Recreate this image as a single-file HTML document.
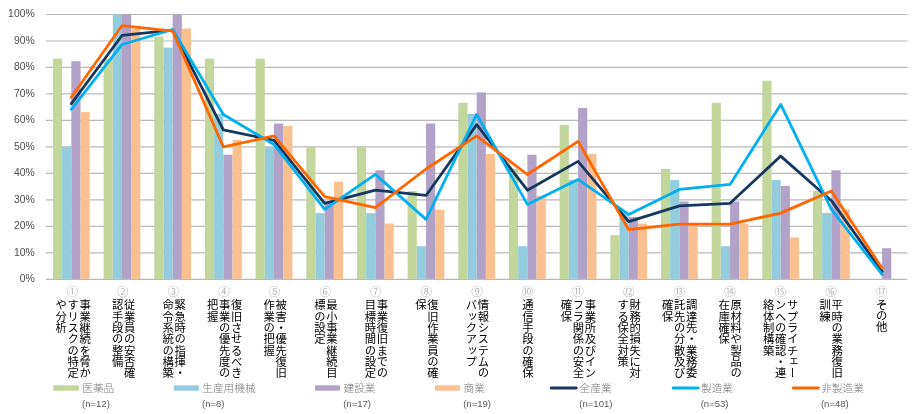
<!DOCTYPE html>
<html lang="ja">
<head>
<meta charset="utf-8">
<title>BCP chart</title>
<style>
html,body{margin:0;padding:0;background:#fff;}
body{width:912px;height:414px;overflow:hidden;font-family:"Liberation Sans","Noto Sans CJK JP",sans-serif;}
svg{display:block;will-change:transform;}
svg text{font-family:"Liberation Sans","Noto Sans CJK JP",sans-serif;}
svg .vt text{writing-mode:vertical-rl;font-size:11.33px;}
</style>
</head>
<body>
<svg width="912" height="414" viewBox="0 0 912 414">
<g stroke="#b9b9b9" stroke-width="1.2"><line x1="46" x2="907.4" y1="279.35" y2="279.35"/><line x1="46" x2="907.4" y1="252.87" y2="252.87"/><line x1="46" x2="907.4" y1="226.38" y2="226.38"/><line x1="46" x2="907.4" y1="199.9" y2="199.9"/><line x1="46" x2="907.4" y1="173.41" y2="173.41"/><line x1="46" x2="907.4" y1="146.93" y2="146.93"/><line x1="46" x2="907.4" y1="120.44" y2="120.44"/><line x1="46" x2="907.4" y1="93.96" y2="93.96"/><line x1="46" x2="907.4" y1="67.47" y2="67.47"/><line x1="46" x2="907.4" y1="40.98" y2="40.98"/><line x1="46" x2="907.4" y1="14.5" y2="14.5"/></g>
<g fill="#c3d69b"><rect x="52.94" y="58.64" width="9.2" height="220.26"/><rect x="103.61" y="58.64" width="9.2" height="220.26"/><rect x="154.28" y="36.57" width="9.2" height="242.33"/><rect x="204.95" y="58.64" width="9.2" height="220.26"/><rect x="255.62" y="58.64" width="9.2" height="220.26"/><rect x="306.29" y="146.93" width="9.2" height="131.98"/><rect x="356.96" y="146.93" width="9.2" height="131.98"/><rect x="407.63" y="191.07" width="9.2" height="87.83"/><rect x="458.3" y="102.78" width="9.2" height="176.12"/><rect x="508.97" y="169" width="9.2" height="109.9"/><rect x="559.64" y="124.85" width="9.2" height="154.05"/><rect x="610.31" y="235.21" width="9.2" height="43.69"/><rect x="660.98" y="169" width="9.2" height="109.9"/><rect x="711.65" y="102.78" width="9.2" height="176.12"/><rect x="762.32" y="80.71" width="9.2" height="198.19"/><rect x="812.99" y="191.07" width="9.2" height="87.83"/></g>
<g fill="#93cddd"><rect x="62.14" y="146.93" width="9.2" height="131.98"/><rect x="112.81" y="14.5" width="9.2" height="264.4"/><rect x="163.48" y="47.61" width="9.2" height="231.29"/><rect x="214.15" y="113.82" width="9.2" height="165.08"/><rect x="264.82" y="146.93" width="9.2" height="131.98"/><rect x="315.49" y="213.14" width="9.2" height="65.76"/><rect x="366.16" y="213.14" width="9.2" height="65.76"/><rect x="416.83" y="246.24" width="9.2" height="32.66"/><rect x="467.5" y="113.82" width="9.2" height="165.08"/><rect x="518.17" y="246.24" width="9.2" height="32.66"/><rect x="568.84" y="180.03" width="9.2" height="98.87"/><rect x="619.51" y="213.14" width="9.2" height="65.76"/><rect x="670.18" y="180.03" width="9.2" height="98.87"/><rect x="720.85" y="246.24" width="9.2" height="32.66"/><rect x="771.52" y="180.03" width="9.2" height="98.87"/><rect x="822.19" y="213.14" width="9.2" height="65.76"/></g>
<g fill="#b3a2c7"><rect x="71.34" y="61.24" width="9.2" height="217.66"/><rect x="122.01" y="14.5" width="9.2" height="264.4"/><rect x="172.68" y="14.5" width="9.2" height="264.4"/><rect x="223.35" y="154.71" width="9.2" height="124.19"/><rect x="274.02" y="123.56" width="9.2" height="155.34"/><rect x="324.69" y="201.45" width="9.2" height="77.45"/><rect x="375.36" y="170.29" width="9.2" height="108.61"/><rect x="426.03" y="123.56" width="9.2" height="155.34"/><rect x="476.7" y="92.4" width="9.2" height="186.5"/><rect x="527.37" y="154.71" width="9.2" height="124.19"/><rect x="578.04" y="107.98" width="9.2" height="170.92"/><rect x="628.71" y="217.03" width="9.2" height="61.87"/><rect x="679.38" y="201.45" width="9.2" height="77.45"/><rect x="730.05" y="201.45" width="9.2" height="77.45"/><rect x="780.72" y="185.87" width="9.2" height="93.03"/><rect x="831.39" y="170.29" width="9.2" height="108.61"/><rect x="882.06" y="248.19" width="9.2" height="30.71"/></g>
<g fill="#fac090"><rect x="80.54" y="112.08" width="9.2" height="166.82"/><rect x="131.21" y="28.44" width="9.2" height="250.46"/><rect x="181.88" y="28.44" width="9.2" height="250.46"/><rect x="232.55" y="139.96" width="9.2" height="138.94"/><rect x="283.22" y="126.02" width="9.2" height="152.88"/><rect x="333.89" y="181.77" width="9.2" height="97.13"/><rect x="384.56" y="223.59" width="9.2" height="55.31"/><rect x="435.23" y="209.65" width="9.2" height="69.25"/><rect x="485.9" y="153.89" width="9.2" height="125.01"/><rect x="536.57" y="195.71" width="9.2" height="83.19"/><rect x="587.24" y="153.89" width="9.2" height="125.01"/><rect x="637.91" y="223.59" width="9.2" height="55.31"/><rect x="688.58" y="223.59" width="9.2" height="55.31"/><rect x="739.25" y="223.59" width="9.2" height="55.31"/><rect x="789.92" y="237.53" width="9.2" height="41.37"/><rect x="840.59" y="209.65" width="9.2" height="69.25"/></g>
<polyline points="71.34,103.66 122.01,35.48 172.68,30.23 223.35,129.88 274.02,140.37 324.69,203.3 375.36,190.19 426.03,195.44 476.7,124.64 527.37,190.19 578.04,161.35 628.71,221.66 679.38,205.93 730.05,203.3 780.72,156.1 831.39,200.68 882.06,271.48" fill="none" stroke="#17375e" stroke-width="2.8" stroke-linejoin="round" stroke-linecap="round"/>
<polyline points="71.34,109.45 122.01,44.48 172.68,29.49 223.35,114.44 274.02,144.43 324.69,209.39 375.36,174.41 426.03,219.38 476.7,114.44 527.37,204.39 578.04,179.41 628.71,214.39 679.38,189.4 730.05,184.4 780.72,104.45 831.39,209.39 882.06,274.35" fill="none" stroke="#00b0f0" stroke-width="2.8" stroke-linejoin="round" stroke-linecap="round"/>
<polyline points="71.34,97.27 122.01,25.54 172.68,31.05 223.35,146.93 274.02,135.89 324.69,196.58 375.36,207.62 426.03,169 476.7,135.89 527.37,174.51 578.04,141.41 628.71,229.69 679.38,224.17 730.05,224.17 780.72,213.14 831.39,191.07 882.06,268.31" fill="none" stroke="#ff6600" stroke-width="2.8" stroke-linejoin="round" stroke-linecap="round"/>
<g font-size="10.4" fill="#4d4d4d" text-anchor="end" opacity=".999"><text x="34.7" y="282.34">0%</text><text x="34.7" y="255.86">10%</text><text x="34.7" y="229.37">20%</text><text x="34.7" y="202.89">30%</text><text x="34.7" y="176.4">40%</text><text x="34.7" y="149.92">50%</text><text x="34.7" y="123.43">60%</text><text x="34.7" y="96.95">70%</text><text x="34.7" y="70.46">80%</text><text x="34.7" y="43.98">90%</text><text x="34.7" y="17.49">100%</text></g>
<g fill="#9a9a9a" font-size="11.6" font-weight="300"><text x="66.44" y="295.8">①</text><text x="117.03" y="295.8">②</text><text x="167.62" y="295.8">③</text><text x="218.21" y="295.8">④</text><text x="268.81" y="295.8">⑤</text><text x="319.4" y="295.8">⑥</text><text x="369.99" y="295.8">⑦</text><text x="420.58" y="295.8">⑧</text><text x="471.18" y="295.8">⑨</text><text x="521.77" y="295.8">⑩</text><text x="572.36" y="295.8">⑪</text><text x="622.95" y="295.8">⑫</text><text x="673.55" y="295.8">⑬</text><text x="724.14" y="295.8">⑭</text><text x="774.73" y="295.8">⑮</text><text x="825.32" y="295.8">⑯</text><text x="875.92" y="295.8">⑰</text></g>
<g fill="#000" class="vt"><text x="84.09" y="299.5">事業継続を脅か</text><text x="72.09" y="299.5">すリスクの特定</text><text x="60.09" y="299.5">や分析</text></g>
<g fill="#000" class="vt"><text x="128.63" y="299.5">従業員の安否確</text><text x="116.63" y="299.5">認手段の整備</text></g>
<g fill="#000" class="vt"><text x="179.17" y="299.5">緊急時の指揮・</text><text x="167.17" y="299.5">命令系統の構築</text></g>
<g fill="#000" class="vt"><text x="235.72" y="299.5">復旧させるべき</text><text x="223.72" y="299.5">事業の優先度の</text><text x="211.72" y="299.5">把握</text></g>
<g fill="#000" class="vt"><text x="280.26" y="299.5">被害・優先復旧</text><text x="268.26" y="299.5">作業の把握</text></g>
<g fill="#000" class="vt"><text x="330.8" y="299.5">最小事業継続目</text><text x="318.8" y="299.5">標の設定</text></g>
<g fill="#000" class="vt"><text x="381.34" y="299.5">事業復旧までの</text><text x="369.34" y="299.5">目標時間の設定</text></g>
<g fill="#000" class="vt"><text x="431.88" y="299.5">復旧作業員の確</text><text x="419.88" y="299.5">保</text></g>
<g fill="#000" class="vt"><text x="482.42" y="299.5">情報システムの</text><text x="470.42" y="299.5">バックアップ</text></g>
<g fill="#000" class="vt"><text x="526.96" y="299.5">通信手段の確保</text></g>
<g fill="#000" class="vt"><text x="589.51" y="299.5">事業所及びイン</text><text x="577.51" y="299.5">フラ関係の安全</text><text x="565.51" y="299.5">確保</text></g>
<g fill="#000" class="vt"><text x="634.05" y="299.5">財務的損失に対</text><text x="622.05" y="299.5">する保全対策</text></g>
<g fill="#000" class="vt"><text x="690.59" y="299.5">調達先・業務委</text><text x="678.59" y="299.5">託先の分散及び</text><text x="666.59" y="299.5">確保</text></g>
<g fill="#000" class="vt"><text x="735.13" y="299.5">原材料や製品の</text><text x="723.13" y="299.5">在庫確保</text></g>
<g fill="#000" class="vt"><text x="791.67" y="299.5">サプライチェー</text><text x="779.67" y="299.5">ンへの確認・連</text><text x="767.67" y="299.5">絡体制構築</text></g>
<g fill="#000" class="vt"><text x="836.21" y="299.5">平時の業務復旧</text><text x="824.21" y="299.5">訓練</text></g>
<g fill="#000" class="vt"><text x="880.76" y="299.5" letter-spacing="-0.68">その他</text></g>
<rect x="53.3" y="385.3" width="25.5" height="5.4" fill="#c3d69b"/>
<text x="82.3" y="391.86" font-size="10.67" font-weight="300" fill="#7a7a7a">医薬品</text>
<text x="82" y="407.15" font-size="9.55" fill="#595959" opacity=".999">(n=12)</text>
<rect x="173.8" y="385.3" width="25" height="5.4" fill="#93cddd"/>
<text x="202.3" y="391.86" font-size="10.67" font-weight="300" fill="#7a7a7a">生産用機械</text>
<text x="202" y="407.15" font-size="9.55" fill="#595959" opacity=".999">(n=8)</text>
<rect x="315" y="385.3" width="25" height="5.4" fill="#b3a2c7"/>
<text x="343.5" y="391.86" font-size="10.67" font-weight="300" fill="#7a7a7a">建設業</text>
<text x="343.2" y="407.15" font-size="9.55" fill="#595959" opacity=".999">(n=17)</text>
<rect x="435" y="385.3" width="25" height="5.4" fill="#fac090"/>
<text x="463.5" y="391.86" font-size="10.67" font-weight="300" fill="#7a7a7a">商業</text>
<text x="463.2" y="407.15" font-size="9.55" fill="#595959" opacity=".999">(n=19)</text>
<line x1="551.2" x2="576.3" y1="388" y2="388" stroke="#17375e" stroke-width="2.8" stroke-linecap="round"/>
<text x="579.6" y="391.86" font-size="10.67" font-weight="300" fill="#7a7a7a">全産業</text>
<text x="579.3" y="407.15" font-size="9.55" fill="#595959" opacity=".999">(n=101)</text>
<line x1="673.2" x2="698.3" y1="388" y2="388" stroke="#00b0f0" stroke-width="2.8" stroke-linecap="round"/>
<text x="701" y="391.86" font-size="10.67" font-weight="300" fill="#7a7a7a">製造業</text>
<text x="700.7" y="407.15" font-size="9.55" fill="#595959" opacity=".999">(n=53)</text>
<line x1="793.2" x2="818.5" y1="388" y2="388" stroke="#ff6600" stroke-width="2.8" stroke-linecap="round"/>
<text x="821.2" y="391.86" font-size="10.67" font-weight="300" fill="#7a7a7a">非製造業</text>
<text x="820.9" y="407.15" font-size="9.55" fill="#595959" opacity=".999">(n=48)</text>
</svg>
</body>
</html>
